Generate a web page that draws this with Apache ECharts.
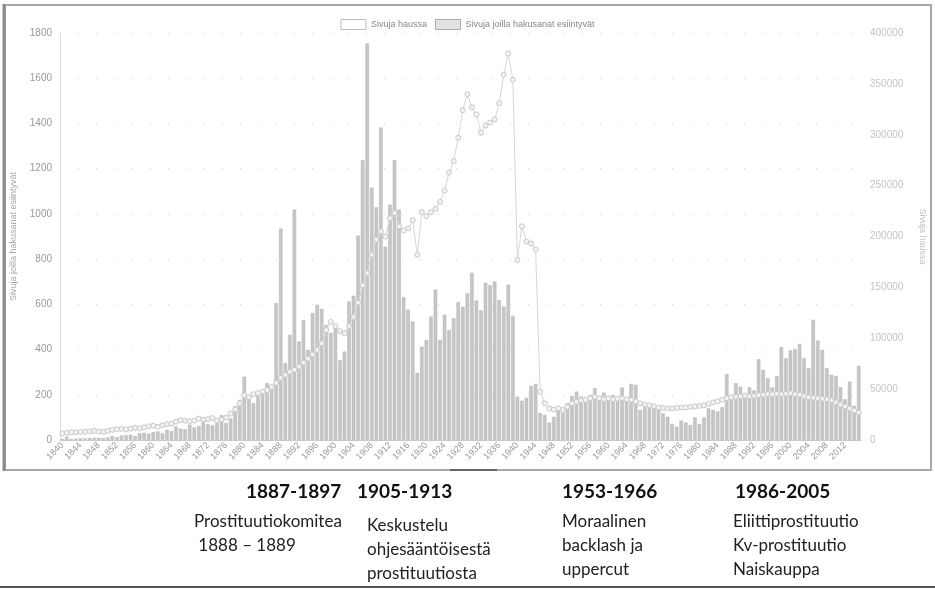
<!DOCTYPE html>
<html>
<head>
<meta charset="utf-8">
<title>Sivuja haussa / Sivuja joilla hakusanat esiintyvät</title>
<script src="https://cdn.jsdelivr.net/npm/echarts@6/dist/echarts.min.js"></script>
<style>
  html, body { margin: 0; padding: 0; background: #fff; }
  #chart { width: 935px; height: 589px; }
</style>
</head>
<body>
<div id="chart"></div>
<script>
// vuodet 1840-2015
var years = []
for (var y = 1840; y <= 2015; y++) years.push(String(y))

// Sivuja joilla hakusanat esiintyvät (vasen akseli)
var hits = [
  5, 15, 5, 6, 8, 8, 9, 10, 10, 9,
  12, 18, 12, 20, 22, 24, 18, 30, 32, 28,
  35, 38, 30, 45, 40, 60, 50, 48, 68, 55,
  62, 95, 70, 65, 80, 110, 75, 95, 150, 177,
  280, 192, 163, 207, 207, 252, 236, 606, 935, 340,
  465, 1019, 435, 529, 399, 562, 598, 580, 509, 474,
  509, 354, 391, 613, 638, 904, 1237, 1754, 1116, 1029,
  1382, 855, 1041, 1237, 1019, 631, 576, 524, 297, 413,
  443, 546, 665, 443, 554, 486, 538, 610, 589, 649,
  740, 617, 573, 695, 685, 701, 618, 590, 687, 549,
  192, 174, 187, 239, 248, 120, 111, 77, 103, 133,
  121, 163, 195, 214, 192, 186, 199, 230, 177, 210,
  177, 199, 177, 232, 180, 248, 244, 133, 145, 151,
  151, 145, 118, 103, 71, 59, 86, 77, 66, 100,
  71, 100, 140, 133, 126, 145, 292, 192, 251, 236,
  192, 233, 219, 357, 310, 273, 232, 283, 411, 362,
  396, 402, 425, 362, 318, 532, 440, 399, 318, 288,
  283, 233, 180, 258, 151, 328
]

// Sivuja haussa (oikea akseli)
var pages = [
  6500, 7000, 7500, 7500, 8000, 8000, 8500, 9000, 8500, 8000,
  9000, 10000, 10500, 11000, 10500, 11000, 12000, 11500, 12500, 13500,
  14000, 13000, 14500, 15500, 16000, 18000, 19500, 19000, 18500, 19000,
  21000, 20000, 20500, 21500, 19000, 20000, 22000, 26000, 30000, 36000,
  44000, 42000, 45000, 46000, 47500, 49000, 52000, 56000, 61000, 64000,
  67000, 69000, 72000, 76000, 80000, 84000, 88500, 95000, 108000, 116000,
  112000, 107000, 105000, 112000, 121000, 135000, 152000, 164000, 182000, 197000,
  205000, 200000, 218000, 223000, 210000, 206000, 208000, 216000, 182000, 224000,
  220000, 224000, 227000, 234000, 245000, 263000, 274000, 297000, 324000, 340000,
  327000, 320000, 302000, 309000, 312000, 315000, 331000, 359000, 380000, 354000,
  177000, 210000, 195000, 193000, 187000, 47500, 36000, 31000, 30000, 31000,
  29500, 32500, 36000, 37500, 39000, 39500, 41000, 42500, 41000, 40000,
  41000, 40000, 40500, 41000, 40000, 39500, 38000, 36000, 35000, 34000,
  33000, 32000, 31500, 31000, 31000, 31500, 32000, 32000, 32500, 33000,
  33500, 34000, 35500, 37000, 38000, 39500, 41000, 42000, 42500, 43000,
  43500, 43000, 43500, 44000, 44500, 45000, 45000, 45500, 45000, 45500,
  46000, 45000, 44500, 43000, 42000, 41500, 41000, 40500, 40000, 39000,
  37000, 35000, 33000, 31000, 29000, 27000
]

var periods = ['1887-1897', '1905-1913', '1953-1966', '1986-2005']
var notes = [
  'Prostituutiokomitea\n 1888 – 1889',
  'Keskustelu\nohjesääntöisestä\nprostituutiosta',
  'Moraalinen\nbacklash ja\nuppercut',
  'Eliittiprostituutio\nKv-prostituutio\nNaiskauppa'
]

var headX = [246, 357, 562, 735]
var noteX = [194, 367, 562, 733]
var noteY = [510, 514, 510, 510]

var chart = echarts.init(document.getElementById('chart'))

var graphics = [
  // kehys
  { type: 'rect', shape: { x: 5, y: 5, width: 926, height: 465 },
    style: { fill: 'none', stroke: '#a8a8a8', lineWidth: 2 } },
  { type: 'line', shape: { x1: 4, y1: 4, x2: 4, y2: 471 },
    style: { stroke: '#8a8a8a', lineWidth: 3 } },
  { type: 'line', shape: { x1: 450, y1: 470, x2: 497, y2: 470 },
    style: { stroke: '#666', lineWidth: 2 } },
  { type: 'line', shape: { x1: 0, y1: 587, x2: 935, y2: 587 },
    style: { stroke: '#555', lineWidth: 2 } }
]
periods.forEach(function (p, i) {
  graphics.push({
    type: 'text', x: headX[i], y: 482,
    style: { text: p, fontFamily: 'Lato', fontWeight: 'bold', fontSize: 19, fill: '#111', verticalAlign: 'top' }
  })
  graphics.push({
    type: 'text', x: noteX[i], y: noteY[i],
    style: { text: notes[i], fontFamily: 'Lato', fontSize: 17, lineHeight: 24, fill: '#222', verticalAlign: 'top' }
  })
})

var plain = function (v) { return String(v) }

chart.setOption({
  animation: false,
  textStyle: { fontFamily: 'Liberation Sans' },
  legend: {
    top: 14,
    left: 'center',
    icon: 'rect',
    itemWidth: 25,
    itemHeight: 10,
    itemGap: 8,
    textStyle: { fontSize: 9, color: '#888' },
    data: [
      { name: 'Sivuja haussa', itemStyle: { color: '#fff', borderColor: '#bbb', borderWidth: 1 } },
      { name: 'Sivuja joilla hakusanat esiintyvät', itemStyle: { color: '#e2e2e2', borderColor: '#aaa', borderWidth: 1 } }
    ]
  },
  grid: {
    left: 60,
    top: 33,
    width: 805,
    height: 407
  },
  graphic: graphics,
  xAxis: {
    type: 'category',
    data: years,
    axisLine: { lineStyle: { color: '#ccc' } },
    axisTick: { show: false },
    axisLabel: { interval: 3, rotate: 45, fontSize: 9, color: '#999', margin: 4 },
    splitLine: { show: false }
  },
  yAxis: [{
    type: 'value',
    min: 0,
    max: 1800,
    interval: 200,
    name: 'Sivuja joilla hakusanat esiintyvät',
    nameLocation: 'middle',
    nameGap: 42,
    nameTextStyle: { fontSize: 9, color: '#aaa' },
    axisLine: { show: true, lineStyle: { color: '#ddd' } },
    axisTick: { show: false },
    axisLabel: { fontSize: 10, color: '#999', margin: 8, formatter: plain },
    splitLine: { lineStyle: { color: '#d4d4d4', type: [1, 17] } }
  }, {
    type: 'value',
    position: 'right',
    min: 0,
    max: 400000,
    interval: 50000,
    name: 'Sivuja haussa',
    nameLocation: 'middle',
    nameRotate: -90,
    nameGap: 57,
    nameTextStyle: { fontSize: 9, color: '#c4c4c4' },
    axisLine: { show: false },
    axisTick: { show: false },
    axisLabel: { fontSize: 10, color: '#c4c4c4', margin: 9, formatter: plain },
    splitLine: { show: false }
  }],
  series: [{
    name: 'Sivuja joilla hakusanat esiintyvät',
    type: 'bar',
    data: hits,
    barCategoryGap: '22%',
    itemStyle: { color: '#c6c6c6', borderColor: '#b5b5b5', borderWidth: 0.5 }
  }, {
    name: 'Sivuja haussa',
    type: 'line',
    yAxisIndex: 1,
    data: pages,
    symbol: 'circle',
    symbolSize: 5,
    showAllSymbol: true,
    z: 3,
    lineStyle: { color: '#d6d6d6', width: 1 },
    itemStyle: { color: '#f2f2f2', borderColor: '#c8c8c8', borderWidth: 1 }
  }]
})
</script>
</body>
</html>
